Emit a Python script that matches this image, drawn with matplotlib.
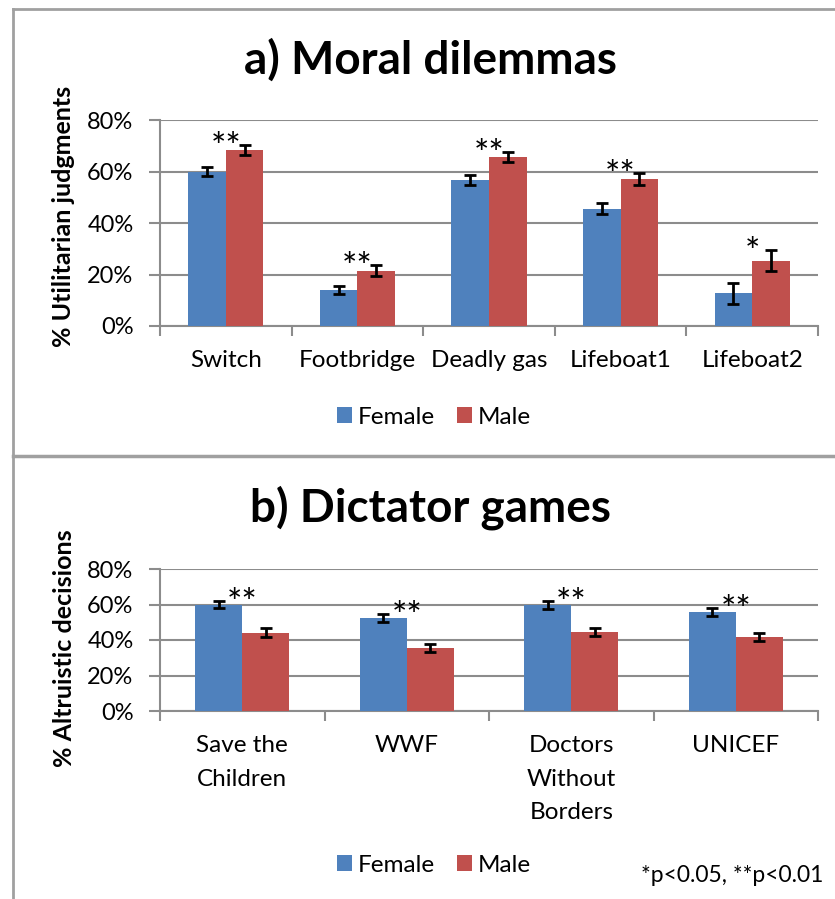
import matplotlib
matplotlib.use("Agg")
import matplotlib.pyplot as plt
from matplotlib.lines import Line2D
from matplotlib.patches import Patch
import numpy as np

plt.rcParams['font.family'] = ['Lato', 'DejaVu Sans']

# ---- data ----
cats_a = ["Switch", "Footbridge", "Deadly gas", "Lifeboat1", "Lifeboat2"]
female_a = [0.599, 0.141, 0.568, 0.456, 0.127]
male_a = [0.684, 0.215, 0.655, 0.570, 0.254]
female_a_err = [0.018, 0.016, 0.019, 0.021, 0.040]
male_a_err = [0.018, 0.020, 0.020, 0.023, 0.041]
sig_a = ["**", "**", "**", "**", "*"]

cats_b = ["Save the\nChildren", "WWF", "Doctors\nWithout\nBorders", "UNICEF"]
female_b = [0.598, 0.523, 0.597, 0.557]
male_b = [0.442, 0.354, 0.444, 0.415]
female_b_err = [0.020, 0.022, 0.020, 0.022]
male_b_err = [0.023, 0.022, 0.024, 0.023]
sig_b = ["**", "**", "**", "**"]

series_names = ["Female", "Male"]
yticks = [0, 0.2, 0.4, 0.6, 0.8]
ytick_labels = ["0%", "20%", "40%", "60%", "80%"]

BLUE = "#4F81BD"
RED = "#C0504D"
GRID = "#8C8C8C"
W, H = 835, 899

fig = plt.figure(figsize=(W / 100, H / 100), dpi=100)


def fx(px):
    return px / W


def fy(py):
    return 1 - py / H


def panel(ax, cats, fem, mal, fem_err, mal_err, sig):
    n = len(cats)
    x = np.arange(n)
    w = 0.2857
    ax.bar(x - w / 2, fem, w, color=BLUE, zorder=3)
    ax.bar(x + w / 2, mal, w, color=RED, zorder=3)
    ekw = dict(fmt="none", ecolor="black", elinewidth=2, capsize=4, capthick=2, zorder=4)
    ax.errorbar(x - w / 2, fem, yerr=fem_err, **ekw)
    ax.errorbar(x + w / 2, mal, yerr=mal_err, **ekw)
    for i in range(n):
        top = max(fem[i] + fem_err[i], mal[i] + mal_err[i])
        ax.annotate(sig[i], xy=(x[i], top), xytext=(0, -10), textcoords="offset points",
                    ha="center", va="baseline", fontsize=26, zorder=5)
    ax.set_xlim(-0.5, n - 0.5)
    ax.set_ylim(0, 0.8)
    ax.set_yticks(yticks)
    ax.set_yticklabels(ytick_labels, fontsize=17)
    ax.set_xticks(x)
    ax.set_xticklabels(cats, fontsize=17.5, linespacing=1.76)
    ax.set_xticks(np.arange(n + 1) - 0.5, minor=True)
    ax.tick_params(axis="x", which="major", length=0, pad=17)
    ax.tick_params(axis="x", which="minor", length=7, width=1.5, color=GRID, direction="out")
    ax.tick_params(axis="y", length=8, width=1.5, color=GRID, pad=11)
    ax.grid(axis="y", color=GRID, linewidth=1.5, zorder=0)
    ax.set_axisbelow(True)
    for s in ["top", "right"]:
        ax.spines[s].set_visible(False)
    for s in ["left", "bottom"]:
        ax.spines[s].set_color(GRID)
        ax.spines[s].set_linewidth(1.5)


ax1 = fig.add_axes([fx(160), fy(326), fx(818) - fx(160), (326 - 120) / H])
panel(ax1, cats_a, female_a, male_a, female_a_err, male_a_err, sig_a)
ax2 = fig.add_axes([fx(160), fy(711), fx(818) - fx(160), (711 - 569) / H])
panel(ax2, cats_b, female_b, male_b, female_b_err, male_b_err, sig_b)

fig.text(fx(431), fy(74), "a) Moral dilemmas", ha="center", va="baseline",
         fontsize=33, fontweight="bold")
fig.text(fx(431), fy(521), "b) Dictator games", ha="center", va="baseline",
         fontsize=33, fontweight="bold")
fig.text(fx(64), fy(216), "% Utilitarian judgments", rotation=90, ha="center", va="center",
         fontsize=18, fontweight="bold")
fig.text(fx(64), fy(648), "% Altruistic decisions", rotation=90, ha="center", va="center",
         fontsize=18, fontweight="bold")

handles = [Patch(facecolor=BLUE), Patch(facecolor=RED)]
for ycen in (417, 865):
    fig.legend(handles, series_names, loc="center", bbox_to_anchor=(fx(434), fy(ycen)),
               ncol=2, frameon=False, fontsize=17.5, handlelength=0.62, handleheight=0.62,
               handletextpad=0.25, columnspacing=0.9)

fig.text(fx(823), fy(876), "*p<0.05, **p<0.01", ha="right", va="center", fontsize=16.5)

# borders
bc = "#A0A0A0"
fig.add_artist(Line2D([fx(13), 1], [fy(9), fy(9)], color=bc, linewidth=2))
fig.add_artist(Line2D([fx(13), fx(13)], [fy(9), 0], color=bc, linewidth=2))
fig.add_artist(Line2D([fx(13), 1], [fy(456), fy(456)], color=bc, linewidth=2.5))

fig.savefig("out.png", dpi=100)
